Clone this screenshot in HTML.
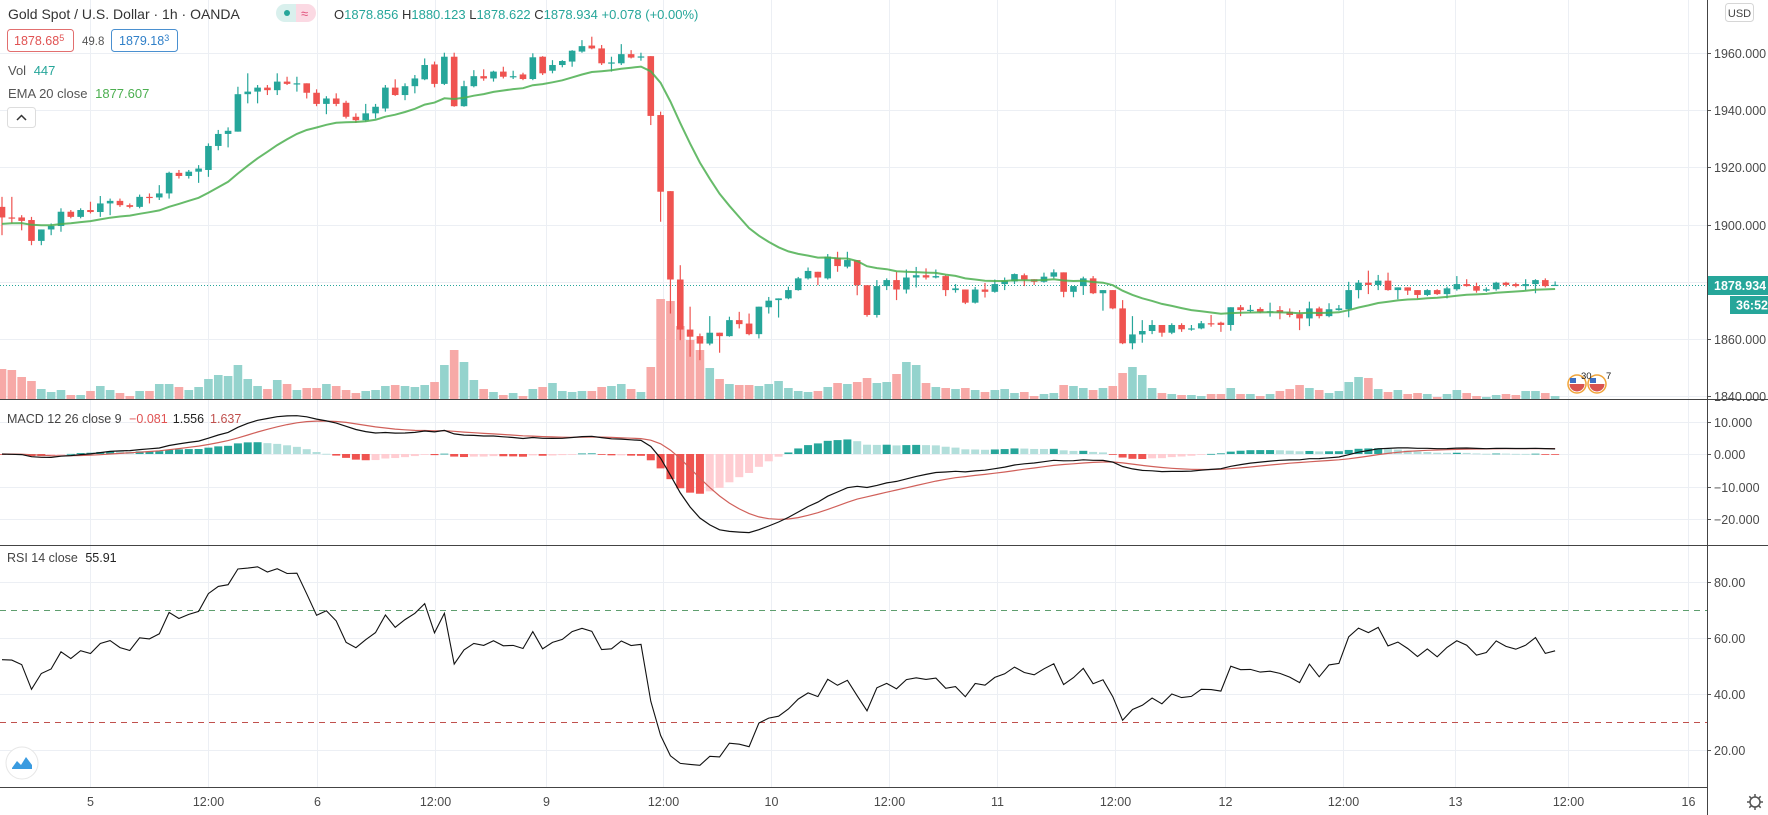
<!DOCTYPE html>
<html><head><meta charset="utf-8">
<style>
html,body{margin:0;padding:0;background:#fff;}
body{width:1768px;height:815px;overflow:hidden;font-family:"Liberation Sans",sans-serif;}
svg{display:block;}
text{font-family:"Liberation Sans",sans-serif;}
</style></head>
<body>
<svg id="chart" width="1768" height="815" viewBox="0 0 1768 815" xmlns="http://www.w3.org/2000/svg">
<rect x="0" y="0" width="1768" height="815" fill="#ffffff"/>
<g id="grid"></g>
<g id="vol"></g>
<g id="candles"></g>
<g id="macdg"></g>
<g id="rsig"></g>
<g id="axes"></g>

<!-- legend -->
<text x="8" y="19" font-size="14" fill="#333">Gold Spot / U.S. Dollar · 1h · OANDA</text>
<g>
<rect x="276" y="4" width="20" height="18" rx="9" fill="#d9f0ed"/>
<rect x="286" y="4" width="30" height="18" rx="9" fill="#fbd9e3"/>
<rect x="286" y="4" width="10" height="18" fill="#d9f0ed"/>
<circle cx="287" cy="13" r="3" fill="#26a69a"/>
<text x="301" y="18" font-size="13" fill="#e0507a">≈</text>
</g>
<text x="334" y="19" font-size="13" fill="#26a69a"><tspan fill="#333">O</tspan>1878.856 <tspan fill="#333">H</tspan>1880.123 <tspan fill="#333">L</tspan>1878.622 <tspan fill="#333">C</tspan>1878.934 +0.078 (+0.00%)</text>
<g>
<rect x="7.5" y="29.5" width="66" height="22" rx="3" fill="#fff" stroke="#e26f6f"/>
<text x="14" y="45" font-size="12.5" fill="#e05252">1878.68<tspan font-size="9" dy="-4">5</tspan></text>
</g>
<text x="82" y="45" font-size="11.5" fill="#555">49.8</text>
<g>
<rect x="111.5" y="29.5" width="66" height="22" rx="3" fill="#fff" stroke="#4a90d0"/>
<text x="119" y="45" font-size="12.5" fill="#2f7fc8">1879.18<tspan font-size="9" dy="-4">3</tspan></text>
</g>
<text x="8" y="75" font-size="13" fill="#555">Vol <tspan fill="#26a69a" dx="4">447</tspan></text>
<text x="8" y="98" font-size="13" fill="#555">EMA 20 close <tspan fill="#4caf50" dx="4">1877.607</tspan></text>
<g>
<rect x="7.5" y="107.5" width="28" height="20" rx="3" fill="#fff" stroke="#ddd"/>
<path d="M17 120 L21.5 115.5 L26 120" fill="none" stroke="#333" stroke-width="1.5"/>
</g>
<text x="7" y="423" font-size="12.5" fill="#444">MACD 12 26 close 9 <tspan fill="#e05252" dx="4">−0.081</tspan><tspan fill="#222" dx="6">1.556</tspan><tspan fill="#c0504d" dx="6">1.637</tspan></text>
<text x="7" y="562" font-size="12.5" fill="#444">RSI 14 close <tspan fill="#222" dx="4">55.91</tspan></text>

<g>
<rect x="1725.5" y="3.5" width="28" height="18" rx="3" fill="#fff" stroke="#d6d6d6"/>
<text x="1739.5" y="17" font-size="11" fill="#444" text-anchor="middle">USD</text>
</g>
<g>
<circle cx="22" cy="763" r="16" fill="#fff" stroke="#e6e6e6"/>
<path d="M12 768 L17 761 L21 765 L26 757 L32 765 L32 769 L12 769 Z" fill="#3a9be0"/>
</g>
<g>
<circle cx="1755" cy="802" r="5" fill="none" stroke="#555" stroke-width="1.5"/>
<path d="M1755 794v3M1755 807v3M1747 802h3M1760 802h3M1749.3 796.3l2 2M1758.7 805.7l2 2M1749.3 807.7l2-2M1758.7 798.3l2-2" stroke="#555" stroke-width="1.5"/>
</g>
<g>
<circle cx="1577" cy="384" r="9" fill="#fff" stroke="#f0a43a" stroke-width="1.5"/>
<path d="M1569.5 384 A7.5 7.5 0 0 0 1584.5 384 Z" fill="#d9534f"/><rect x="1570" y="378" width="6" height="5" fill="#3d6fc4"/>
<circle cx="1597" cy="384" r="9" fill="#fff" stroke="#f0a43a" stroke-width="1.5"/>
<path d="M1589.5 384 A7.5 7.5 0 0 0 1604.5 384 Z" fill="#d9534f"/><rect x="1590" y="378" width="6" height="5" fill="#3d6fc4"/>
<text x="1581" y="379" font-size="9.5" fill="#222">30</text>
<text x="1606" y="379" font-size="9.5" fill="#222">7</text>
</g>
</svg>

<script>
const opens=[1906.2,1902.5,1902.5,1901.6,1894.3,1898.3,1899.5,1904.5,1902.7,1905.1,1904.4,1907.4,1908.3,1906.8,1906.2,1909.7,1909.5,1910.9,1918.1,1917,1918.5,1919.1,1927.5,1931.7,1932.5,1945.6,1946.5,1947.9,1947,1950,1949.2,1949.4,1946.1,1942.2,1944.1,1942.6,1937.7,1936.5,1938.9,1940.6,1947.9,1945.3,1948.4,1950.8,1956,1949.2,1958.7,1941.4,1948.4,1951.9,1951.1,1953.5,1951.7,1952.5,1950.9,1958.7,1953.8,1955.8,1957,1960.5,1962.6,1961.6,1956.7,1956.4,1959.6,1958.7,1958.9,1938.3,1911.7,1880.8,1863.3,1861,1858.4,1862.2,1861,1866.6,1865.4,1861.7,1871.1,1873.6,1874.2,1877.1,1881.2,1883.5,1881.2,1888.5,1885.3,1887.6,1878.8,1868.4,1878.5,1880.6,1877.3,1881.5,1882.3,1881.5,1882,1877.1,1877.3,1872.7,1877.3,1876.5,1879.2,1880.1,1882.3,1880.9,1880,1881.8,1883.3,1876.5,1878.5,1881.2,1876,1877.1,1870.7,1858.5,1861.6,1862.8,1864.9,1862.2,1864.9,1863.4,1863.7,1865.5,1865.7,1864.9,1871.1,1870.1,1870.5,1869.5,1870.1,1869.5,1868.7,1867.2,1870.7,1868,1870.1,1870.4,1877.1,1879.7,1878.9,1880.4,1877.1,1878.05,1877.1,1875.4,1877.1,1875.7,1877.4,1879.2,1878.5,1876.9,1877.4,1879.7,1879.2,1878.5,1879.2,1880.6,1878.856];
const highs=[1909.7,1909.7,1903.3,1902.7,1898.3,1900.4,1905.7,1905.1,1905.7,1908,1910,1909.1,1909.1,1907.4,1910.5,1910.9,1913.8,1918.5,1919.1,1919.1,1920.8,1928.4,1933.1,1934,1948.2,1952.9,1948.8,1948.8,1952.9,1951.7,1951.7,1949.4,1947.3,1944.9,1945.9,1943.3,1938.9,1942.2,1942.2,1948.8,1950.8,1949.4,1952.3,1958.1,1957,1960.1,1960.1,1950.3,1954,1954.3,1953.8,1955.2,1953.8,1953.1,1959.9,1958.9,1957.5,1957.5,1961,1964.5,1965.7,1962.8,1958.7,1963.1,1961,1960.1,1958.9,1939.5,1911.7,1885.8,1871.3,1861.9,1868,1862.2,1867.8,1869.5,1868.9,1871.3,1874.7,1874.2,1878.3,1881.7,1885,1883.5,1889.7,1890.5,1890.5,1887.6,1878.8,1880.6,1881.2,1883.5,1884.3,1885.2,1884.7,1884.3,1882.3,1879.2,1877.3,1878.2,1879.6,1880.8,1881.5,1882.9,1882.9,1880.9,1883.2,1884.35,1883.3,1878.5,1881.8,1882,1877.1,1877.1,1873.6,1868,1866.6,1866.6,1864.9,1865.5,1865.5,1864.9,1866.3,1868.4,1866.05,1871.1,1871.9,1871.9,1871.1,1872.7,1871.5,1870.7,1870.1,1873.05,1871.3,1872.5,1871.9,1880,1880.6,1883.9,1882.4,1883.2,1878.05,1878.05,1877.1,1877.4,1877.4,1878.3,1882,1880.9,1879.7,1878.05,1880,1880,1879.7,1880.9,1880.9,1881.2,1880.123];
const lows=[1896.3,1900.4,1898,1892.8,1892.8,1896.3,1897.5,1902.2,1902.2,1903.9,1902.7,1903.3,1906.2,1905.7,1905.7,1907.4,1908.6,1909.1,1916.1,1916.1,1914.6,1916.7,1926,1927,1932.5,1942.4,1942.4,1945.3,1945.3,1948.8,1946.5,1944.1,1941.4,1938.6,1941.4,1937.1,1935.6,1936,1937.1,1939.5,1945,1943.5,1945.9,1950.5,1948,1948.8,1941.2,1941.2,1948,1950.3,1950,1951.1,1950.9,1950.5,1950.5,1952.3,1952.9,1955,1955.2,1960.1,1961.3,1955.8,1953.5,1955.8,1958.1,1957.3,1934.8,1901,1868.9,1859.6,1853.8,1852.6,1857.8,1855.2,1860.8,1863.7,1861.3,1860.2,1868.9,1867.5,1873.9,1876.9,1880.8,1878.8,1880.8,1883.5,1884.7,1875.3,1867.8,1867.5,1877.1,1873.6,1875.9,1878,1880.8,1881.2,1875,1876.2,1872.2,1872.4,1874.5,1876.2,1877.1,1879.2,1878.5,1878.9,1879.7,1881.2,1874.6,1874.6,1875.4,1875.7,1869.9,1870.4,1858.2,1856.4,1858.7,1861.7,1860.8,1861.7,1862.5,1862.9,1863.4,1864.3,1862.5,1862.9,1868,1869.2,1869,1867.8,1866.9,1867.6,1863.1,1864.5,1867.2,1867.6,1869.9,1867.6,1874.2,1875.7,1877.1,1876.9,1873.9,1875.4,1874.2,1875,1875.4,1874.2,1876.9,1878.3,1876.2,1876.5,1876.9,1878.3,1878.05,1877.1,1876,1878.05,1878.622];
const closes=[1902.5,1902.4,1901.3,1894.3,1898.3,1899.5,1904.5,1902.7,1905.1,1904.4,1907.4,1908.3,1906.8,1906.2,1909.7,1909.5,1910.9,1918.1,1917,1918.5,1919.6,1927.5,1931.7,1932.8,1945.6,1946.5,1947.9,1947,1950,1949.2,1949.4,1946.1,1942.2,1944.1,1942.2,1937.7,1936.5,1938.9,1941.2,1947.9,1945.3,1948.4,1951.1,1955.8,1949.2,1958.7,1941.4,1948.4,1951.9,1951.1,1953.5,1951.7,1951.9,1950.9,1958.5,1952.9,1955.8,1957.2,1960.8,1962.4,1961.6,1956.4,1956.7,1959.6,1958.4,1958.8,1938,1911.5,1880.8,1863.3,1860.8,1858.4,1862.2,1861,1866.6,1865.2,1861.7,1871.3,1873.4,1874.2,1877.1,1881.2,1883.8,1881.5,1888.8,1885.5,1887.6,1878.8,1868.4,1878.5,1880.6,1877.3,1881.5,1882.3,1881.5,1882,1877.1,1877.7,1872.7,1877.3,1876.5,1879.2,1880.4,1882.7,1880.8,1880,1881.8,1883.3,1876.5,1878.5,1881.2,1876,1877.1,1870.7,1858.5,1861.6,1862.8,1864.9,1862.2,1864.9,1863.4,1863.7,1865.5,1865.4,1864.9,1871.1,1870.1,1870.2,1869.5,1869.7,1869.2,1868.4,1867.2,1870.7,1868,1870.4,1870.7,1877.1,1879.7,1878.9,1880.4,1877.1,1878.05,1876.9,1875.4,1877.1,1875.7,1877.7,1879.2,1878.5,1876.9,1877.4,1879.7,1878.9,1878.5,1879.2,1880.6,1878.5,1878.934];
const volumes=[4500,4350,3300,2700,1500,1050,1350,600,600,1200,1950,1350,900,450,1200,1200,2250,2250,1800,1350,1800,3000,3600,3450,5100,3000,1950,1500,2850,2250,1350,1650,1650,2250,1950,1350,900,1200,1350,1950,2100,1950,1800,2100,2550,5100,7350,5550,2850,1500,1050,600,900,450,1500,1800,2400,1200,1050,1200,1200,1800,1950,2250,1500,1050,4800,15000,14700,10950,8850,7350,4650,3000,2250,2100,2100,1950,2250,2700,1650,1200,1050,1200,1800,2400,2250,2550,3150,2400,2550,3750,5550,5100,2400,1800,1650,1500,1650,1350,1050,1350,1500,900,1050,450,750,900,2100,1950,1650,1350,1650,1950,3900,4800,3600,1650,900,750,600,600,450,750,750,1650,750,750,450,750,1200,1500,2100,1650,1350,900,1200,2550,3300,3150,1500,1050,1350,750,900,750,300,750,1350,900,450,300,600,750,600,1200,1200,900,447];
const timeTickIdx=[9,21,32,44,55.3,67.2,78.2,90.2,101.2,113.2,124.4,136.4,147.8,159.3,171.5];
const timeTickLabels=["5","12:00","6","12:00","9","12:00","10","12:00","11","12:00","12","12:00","13","12:00","16"];
const priceTicks=[1960,1940,1920,1900,1880,1860,1840];
const macdTicks=[10,0,-10,-20];
const rsiTicks=[80,60,40,20];
const rsiBands=[70,30];

const NS="http://www.w3.org/2000/svg";
const PLOT_R=1707;
const xOf=i=>2+i*9.83;
const yP=p=>53+(1960-p)*2.86;
const yV=v=>399-v/150;
const yM=m=>454-m*3.25;
const yR=r=>638+(60-r)*2.8;
const UP="#26a69a",DN="#ef5350";
function el(tag,attrs,parent){const e=document.createElementNS(NS,tag);for(const k in attrs)e.setAttribute(k,attrs[k]);parent.appendChild(e);return e;}
const G=id=>document.getElementById(id);
const grid=G('grid'),axes=G('axes');

// grid
timeTickIdx.forEach((t,k)=>{const x=Math.round(xOf(t))+0.5;
 const l=el('line',{x1:x,x2:x,y1:0,y2:787,stroke:'#eceff4','stroke-width':1},grid);
 
 
 const tx=el('text',{x:x,y:806,'font-size':12.5,fill:'#4a4a4a','text-anchor':'middle'},axes);
 tx.textContent=timeTickLabels[k];
 
 
});
priceTicks.forEach(p=>{const y=Math.round(yP(p))+0.5;
 const l=el('line',{x1:0,x2:PLOT_R,y1:y,y2:y,stroke:'#eceff4'},grid);
 
 
 el('line',{x1:PLOT_R,x2:PLOT_R+4,y1:y,y2:y,stroke:'#555'},axes);
 if(p!==1880){const t=el('text',{x:1714,y:y+4.5,'font-size':12.5,fill:'#4a4a4a'},axes);t.textContent=p.toFixed(3);
 
 }
});
macdTicks.forEach(m=>{const y=Math.round(yM(m))+0.5;
 const l=el('line',{x1:0,x2:PLOT_R,y1:y,y2:y,stroke:'#eceff4'},grid);
 
 
 el('line',{x1:PLOT_R,x2:PLOT_R+4,y1:y,y2:y,stroke:'#555'},axes);
 const t=el('text',{x:1714,y:y+4.5,'font-size':12.5,fill:'#4a4a4a'},axes);t.textContent=(m<0?'−':'')+Math.abs(m).toFixed(3);
 
 
});
rsiTicks.forEach(r=>{const y=Math.round(yR(r))+0.5;
 const l=el('line',{x1:0,x2:PLOT_R,y1:y,y2:y,stroke:'#eceff4'},grid);
 
 
 el('line',{x1:PLOT_R,x2:PLOT_R+4,y1:y,y2:y,stroke:'#555'},axes);
 const t=el('text',{x:1714,y:y+4.5,'font-size':12.5,fill:'#4a4a4a'},axes);t.textContent=r.toFixed(2);
 
 
});
rsiBands.forEach((r,k)=>{const y=Math.round(yR(r))+0.5;
 const l=el('line',{x1:0,x2:PLOT_R,y1:y,y2:y,stroke:k===0?'#5e9e6e':'#c0504d','stroke-dasharray':'6 5'},grid);
 
 
});
// pane separators & axis lines
[[0,399.5,1768,399.5],[0,545.5,1768,545.5],[0,787.5,1707,787.5],[1707.5,0,1707.5,815]].forEach(s=>{
 const l=el('line',{x1:s[0],y1:s[1],x2:s[2],y2:s[3],stroke:'#444','stroke-width':1},axes);
 
 
});

// volume
const vg=G('vol');
volumes.forEach((v,i)=>{const x=xOf(i);const up=closes[i]>=opens[i];
 const r=el('rect',{x:x-4.3,y:yV(v),width:8.6,height:399-yV(v),fill:up?'#94d3cd':'#f7a9a7'},vg);
 
 
});
// last price line
const lp=closes[closes.length-1];
const ply=Math.round(yP(lp))+0.5;
const pl=el('line',{x1:0,x2:PLOT_R,y1:ply,y2:ply,stroke:'#26a69a','stroke-dasharray':'1 2'},G('candles'));


// candles
const cg=G('candles');
closes.forEach((c,i)=>{const o=opens[i],x=xOf(i),up=c>=o,col=up?UP:DN;
 const g=el('g',{},cg);
 
 
 el('line',{x1:x,x2:x,y1:yP(highs[i]),y2:yP(lows[i]),stroke:col,'stroke-width':1.2},g);
 const t=Math.min(yP(o),yP(c)),h=Math.max(1.2,Math.abs(yP(o)-yP(c)));
 el('rect',{x:x-3.3,y:t,width:6.6,height:h,fill:col},g);
});
// EMA 20
let ema=1900;const emaPts=[];
closes.forEach((c,i)=>{ema=c*2/21+ema*19/21;emaPts.push(xOf(i).toFixed(1)+','+yP(ema).toFixed(1));});
const ep=el('polyline',{points:emaPts.join(' '),fill:'none',stroke:'#4caf50','stroke-width':2,'stroke-opacity':0.85},cg);



// MACD
let e12=1903,e26=1903,sig=0,prevH=0;const mPts=[],sPts=[];const mg=G('macdg');
closes.forEach((c,i)=>{e12=c*2/13+e12*11/13;e26=c*2/27+e26*25/27;const m=e12-e26;sig=m*0.2+sig*0.8;const h=m-sig;
 const x=xOf(i);let col;
 if(h>=0)col=h>=prevH?'#26a69a':'#b2dfdb';else col=h<prevH?'#ef5350':'#ffcdd2';
 const y0=yM(0),y1=yM(h);
 const r=el('rect',{x:x-4,y:Math.min(y0,y1),width:8,height:Math.max(0.8,Math.abs(y1-y0)),fill:col},mg);
 
 
 prevH=h;mPts.push(x.toFixed(1)+','+yM(m).toFixed(1));sPts.push(x.toFixed(1)+','+yM(sig).toFixed(1));
});
const sl=el('polyline',{points:sPts.join(' '),fill:'none',stroke:'#d0605a','stroke-width':1.2},mg);


const ml=el('polyline',{points:mPts.join(' '),fill:'none',stroke:'#111','stroke-width':1.2},mg);



// RSI
let ag=1.6,al=1.4;const rPts=[];
closes.forEach((c,i)=>{const prev=i===0?1903.3:closes[i-1];const d=c-prev;
 ag=(ag*13+Math.max(d,0))/14;al=(al*13+Math.max(-d,0))/14;const rsi=100-100/(1+ag/al);
 rPts.push(xOf(i).toFixed(1)+','+yR(rsi).toFixed(1));});
const rl=el('polyline',{points:rPts.join(' '),fill:'none',stroke:'#111','stroke-width':1.1},G('rsig'));



// price label boxes
const pb=el('g',{},axes);


el('rect',{x:1708,y:ply-9.5,width:60,height:19,fill:'#26a69a'},pb);
const pt=el('text',{x:1714,y:ply+4.5,'font-size':12.5,fill:'#fff','font-weight':'bold'},pb);pt.textContent=lp.toFixed(3);
el('rect',{x:1730,y:ply+10.5,width:38,height:18,fill:'#26a69a'},pb);
const ct=el('text',{x:1736,y:ply+24,'font-size':12.5,fill:'#fff','font-weight':'bold'},pb);ct.textContent='36:52';
</script>
</body></html>
